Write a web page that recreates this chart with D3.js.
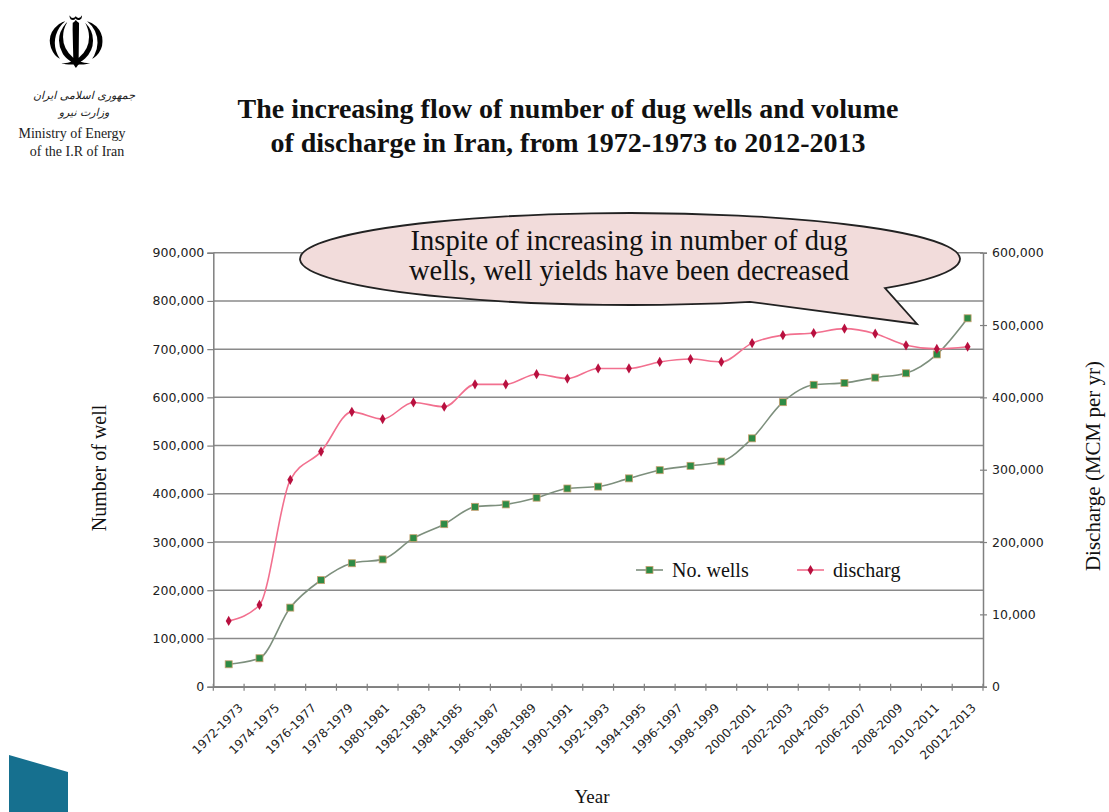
<!DOCTYPE html>
<html>
<head>
<meta charset="utf-8">
<script src="https://cdn.jsdelivr.net/npm/d3@7"></script>
<style>
  html, body { margin: 0; padding: 0; background: #fff; }
  svg { display: block; }
</style>
</head>
<body>
<svg id="chart" width="1109" height="812"></svg>
<script>
// ---------- DATA ----------
const titleLines = [
  "The increasing flow of number of dug wells and volume",
  "of discharge in Iran, from 1972-1973 to 2012-2013"
];
const calloutLines = [
  "Inspite of increasing in number of dug",
  "wells, well  yields have been decreased"
];
// 25 plotted periods (the axis shows 21 labels spread over them)
const periodIndex = d3.range(1, 26);
const xLabels = [
  "1972-1973","1974-1975","1976-1977","1978-1979","1980-1981","1982-1983",
  "1984-1985","1986-1987","1988-1989","1990-1991","1992-1993","1994-1995",
  "1996-1997","1998-1999","2000-2001","2002-2003","2004-2005","2006-2007",
  "2008-2009","2010-2011","20012-2013"
];
const wells = [
  46500, 59000, 164000, 221000, 256000, 264000, 308000, 337000, 373000, 378000,
  392000, 411000, 415000, 432000, 449000, 458000, 467000, 515000, 590000, 626000,
  630000, 641000, 650000, 689000, 764000
];
const discharge = [
  91000, 113000, 286000, 325000, 380000, 370000, 393000, 387000, 418000, 418000,
  432000, 426000, 440000, 440000, 449000, 453000, 449000, 475000, 486000, 489000,
  495000, 488000, 472000, 467000, 470000
];
const leftTicks = [0,100000,200000,300000,400000,500000,600000,700000,800000,900000];
const rightTickValues = [0,100000,200000,300000,400000,500000,600000];
const rightTickLabels = ["0","10,000","200,000","300,000","400,000","500,000","600,000"];
const seriesNames = ["No. wells", "discharg"];

// ---------- LAYOUT ----------
const svg = d3.select("#chart");
const X0 = 213.3, X1 = 983, Y0 = 686.7, Y1 = 252.7;
const fmt = d3.format(",");
const serif = "'Liberation Serif', 'Times New Roman', serif";
const sans = "'DejaVu Sans', Verdana, sans-serif";

svg.append("rect").attr("width",1109).attr("height",812).attr("fill","#fff");

const x = d3.scaleBand().domain(periodIndex).range([X0, X1]);
const xLab = d3.scaleBand().domain(xLabels).range([X0, X1]);
const yL = d3.scaleLinear().domain([0, 900000]).range([Y0, Y1]);
const yR = d3.scaleLinear().domain([0, 600000]).range([Y0, Y1]);

// ---------- LOGO / HEADER ----------
svg.append("text").attr("x", 76).attr("y", 68).attr("text-anchor","middle")
  .attr("font-family", sans).attr("font-size", 72).attr("fill","#000").text("\u262B");
svg.append("text").attr("x", 84).attr("y", 99).attr("text-anchor","middle")
  .attr("font-family", sans).attr("font-size", 11).attr("font-style","italic").attr("fill","#222")
  .text("جمهوری اسلامی ایران");
svg.append("text").attr("x", 84).attr("y", 116).attr("text-anchor","middle")
  .attr("font-family", sans).attr("font-size", 11).attr("font-style","italic").attr("fill","#222")
  .text("وزارت نیرو");
svg.append("text").attr("x", 72).attr("y", 138).attr("text-anchor","middle")
  .attr("font-family", serif).attr("font-size", 14).attr("fill","#222").text("Ministry of Energy");
svg.append("text").attr("x", 77).attr("y", 156).attr("text-anchor","middle")
  .attr("font-family", serif).attr("font-size", 14).attr("fill","#222").text("of the I.R of Iran");

// bottom-left decoration
svg.append("path").attr("d","M9,755 L68,772 L68,812 L9,812 Z").attr("fill","#16708f");

// ---------- TITLE ----------
svg.append("g").selectAll("text").data(titleLines).join("text")
  .attr("x", 568).attr("y", (d,i) => 118 + i*34)
  .attr("text-anchor","middle").attr("font-family", serif).attr("font-weight","bold")
  .attr("font-size", 28).attr("fill","#111").text(d => d);

// ---------- GRID ----------
svg.append("g").selectAll("line").data(leftTicks).join("line")
  .attr("x1", X0).attr("x2", X1).attr("y1", d => yL(d)).attr("y2", d => yL(d))
  .attr("stroke","#8a8a8a").attr("stroke-width",1.5);

// ---------- AXES ----------
const axL = svg.append("g").attr("transform",`translate(${X0},0)`)
  .call(d3.axisLeft(yL).tickValues(leftTicks).tickFormat(fmt).tickSize(6).tickPadding(3));
const axR = svg.append("g").attr("transform",`translate(${X1},0)`)
  .call(d3.axisRight(yR).tickValues(rightTickValues)
    .tickFormat((d,i) => rightTickLabels[i]).tickSize(4).tickPadding(5));
axR.selectAll(".tick line").attr("x1", -3);
const axB = svg.append("g").attr("transform",`translate(0,${Y0})`)
  .call(d3.axisBottom(x).tickValues([]).tickSizeOuter(0));
// category boundary ticks
svg.append("g").selectAll("line").data(periodIndex.concat([26])).join("line")
  .attr("x1", d => d <= 25 ? x(d) : X1).attr("x2", d => d <= 25 ? x(d) : X1)
  .attr("y1", Y0 - 3).attr("y2", Y0 + 4).attr("stroke","#808080").attr("stroke-width",1.2);

[axL, axR, axB].forEach(a => {
  a.selectAll(".domain").attr("stroke","#808080").attr("stroke-width",1.5);
  a.selectAll(".tick line").attr("stroke","#808080").attr("stroke-width",1.2);
  a.selectAll(".tick text").attr("font-family", sans).attr("font-size", 12.5).attr("fill","#222");
});

// x labels (21 labels spread across axis)
svg.append("g").selectAll("text").data(xLabels).join("text")
  .attr("transform", d => `translate(${xLab(d) + xLab.bandwidth()/2 + 9},${Y0 + 19}) rotate(-45)`)
  .attr("text-anchor","end").attr("dy","0.35em")
  .attr("font-family", sans).attr("font-size", 12).attr("fill","#222").text(d => d);

// axis titles
svg.append("text").attr("transform","translate(106,468) rotate(-90)").attr("text-anchor","middle")
  .attr("font-family", serif).attr("font-size", 20).attr("fill","#111").text("Number of well");
svg.append("text").attr("transform","translate(1100,466) rotate(-90)").attr("text-anchor","middle")
  .attr("font-family", serif).attr("font-size", 21).attr("fill","#111").text("Discharge (MCM per yr)");
svg.append("text").attr("x", 592).attr("y", 803).attr("text-anchor","middle")
  .attr("font-family", serif).attr("font-size", 19).attr("fill","#111").text("Year");

// ---------- SERIES ----------
const cx = d => x(d) + x.bandwidth()/2;
const curve = d3.curveMonotoneX;
const wellCol = "#7d8f7d", wellMark = "#2e8b45";
const disCol = "#f2708f", disMark = "#b8103f";

svg.append("path").datum(periodIndex)
  .attr("d", d3.line().x(cx).y((d,i) => yL(wells[i])).curve(curve))
  .attr("fill","none").attr("stroke", wellCol).attr("stroke-width",1.6);
svg.append("path").datum(periodIndex)
  .attr("d", d3.line().x(cx).y((d,i) => yR(discharge[i])).curve(curve))
  .attr("fill","none").attr("stroke", disCol).attr("stroke-width",1.6);

svg.append("g").selectAll("rect").data(periodIndex).join("rect")
  .attr("x", d => cx(d) - 3.5).attr("y", (d,i) => yL(wells[i]) - 3.5)
  .attr("width",7).attr("height",7).attr("fill", wellMark)
  .attr("stroke","#c9a070").attr("stroke-width",0.8);
svg.append("g").selectAll("path").data(periodIndex).join("path")
  .attr("d", d3.symbol(d3.symbolDiamond, 30))
  .attr("transform", (d,i) => `translate(${cx(d)},${yR(discharge[i])})`)
  .attr("fill", disMark);

// ---------- LEGEND ----------
const leg = svg.append("g");
const legItems = [
  {name: seriesNames[0], x: 636, col: wellCol, mk: wellMark, sq: true},
  {name: seriesNames[1], x: 797, col: disCol, mk: disMark, sq: false}
];
legItems.forEach(it => {
  const ly = 570;
  leg.append("line").attr("x1", it.x).attr("x2", it.x + 27).attr("y1", ly).attr("y2", ly)
    .attr("stroke", it.col).attr("stroke-width",1.6);
  if (it.sq) leg.append("rect").attr("x", it.x + 10).attr("y", ly - 3.5).attr("width",7).attr("height",7)
    .attr("fill", it.mk).attr("stroke","#c9a070").attr("stroke-width",0.8);
  else leg.append("path").attr("d", d3.symbol(d3.symbolDiamond, 30))
    .attr("transform",`translate(${it.x + 13.5},${ly})`).attr("fill", it.mk);
  leg.append("text").attr("x", it.x + 36).attr("y", ly + 7)
    .attr("font-family", serif).attr("font-size", 20).attr("fill","#111").text(it.name);
});

// ---------- CALLOUT ----------
const ecx = 630, ecy = 259, erx = 330, ery = 46;
const ey = xx => ecy + ery * Math.sqrt(1 - Math.pow((xx - ecx)/erx, 2));
const aX = 885, bX = 750;
svg.append("path")
  .attr("d", `M${aX},${ey(aX)} A${erx},${ery} 0 1 0 ${bX},${ey(bX)} L917,324 Z`)
  .attr("fill","#f2dcdb").attr("stroke","#222").attr("stroke-width",1.8);
svg.append("g").selectAll("text").data(calloutLines).join("text")
  .attr("x", 629).attr("y", (d,i) => 250 + i*30)
  .attr("text-anchor","middle").attr("font-family", serif).attr("font-size", 28.5)
  .attr("fill","#111").text(d => d);
</script>
</body>
</html>
